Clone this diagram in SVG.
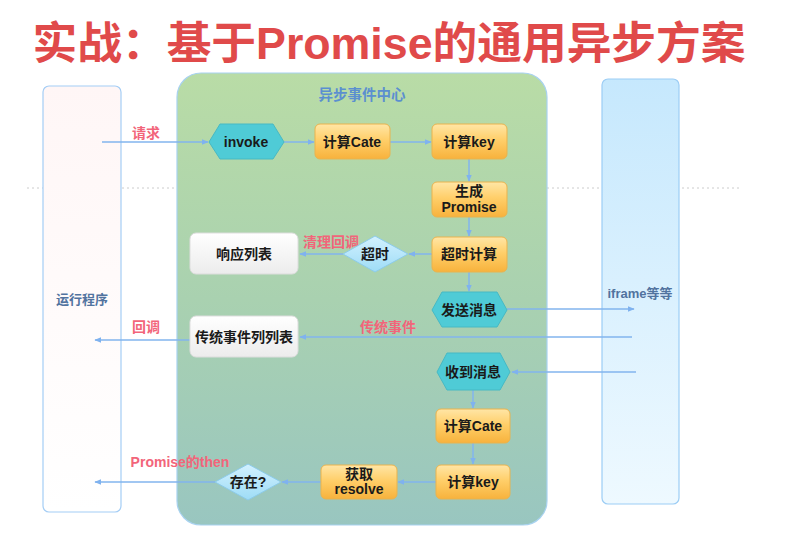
<svg xmlns="http://www.w3.org/2000/svg" width="791" height="536" viewBox="0 0 791 536">
<defs>
<linearGradient id="gGreen" x1="0" y1="0" x2="0" y2="1"><stop offset="0" stop-color="#b9dca6"/><stop offset="0.5" stop-color="#a9d1b0"/><stop offset="1" stop-color="#99c6c0"/></linearGradient>
<linearGradient id="gLeft" x1="0" y1="0" x2="0" y2="1"><stop offset="0" stop-color="#fff6f6"/><stop offset="1" stop-color="#ffffff"/></linearGradient>
<linearGradient id="gRight" x1="0" y1="0" x2="0" y2="1"><stop offset="0" stop-color="#c6e8fd"/><stop offset="1" stop-color="#eef9ff"/></linearGradient>
<linearGradient id="gOrange" x1="0" y1="0" x2="0" y2="1"><stop offset="0" stop-color="#ffe6a6"/><stop offset="0.45" stop-color="#ffcf6a"/><stop offset="1" stop-color="#f7b23c"/></linearGradient>
<linearGradient id="gWhite" x1="0" y1="0" x2="0" y2="1"><stop offset="0" stop-color="#ffffff"/><stop offset="1" stop-color="#ececec"/></linearGradient>
<linearGradient id="gDiam" x1="0" y1="0" x2="0" y2="1"><stop offset="0" stop-color="#d2f1ff"/><stop offset="1" stop-color="#9edcf6"/></linearGradient>
<marker id="arr" viewBox="0 0 10 10" refX="9" refY="5" markerWidth="7" markerHeight="7" orient="auto-start-reverse" markerUnits="userSpaceOnUse"><path d="M0,1 L10,5 L0,9 z" fill="#7fb2ef"/></marker>
</defs>
<style>
.t{font-family:"Liberation Sans","Noto Sans CJK SC",sans-serif;font-weight:bold;text-anchor:middle;}
.node{font-size:14px;fill:#1a1a1a;}
.red{font-size:14px;fill:#f2657a;}
.lane{font-size:13px;fill:#51739f;}
.orange{fill:url(#gOrange);stroke:#e9b34e;stroke-width:1;}
.hex{fill:#4fcbd6;stroke:#47b9c4;stroke-width:1;}
.white{fill:url(#gWhite);stroke:#dddddd;stroke-width:1;}
.diam{fill:url(#gDiam);stroke:#8ccbea;stroke-width:1;}
.con{stroke:#82b4ee;stroke-width:1.5;fill:none;marker-end:url(#arr);}
</style>
<rect width="791" height="536" fill="#ffffff"/>
<text class="t" x="389" y="59" font-size="44" fill="#e04a4a" textLength="713" lengthAdjust="spacingAndGlyphs">实战：基于Promise的通用异步方案</text>
<line x1="27" y1="188" x2="740" y2="188" stroke="#cccccc" stroke-width="1" stroke-dasharray="2,3"/>

<g id="lane-left">
<rect x="43" y="86" width="78" height="426" rx="6" fill="url(#gLeft)" stroke="#a4cdf5" stroke-width="1.2"/>
<text class="t lane" x="82" y="304">运行程序</text>
</g>
<g id="center">
<rect x="177" y="73" width="370" height="452" rx="24" fill="url(#gGreen)" stroke="#a8d2f0" stroke-width="1.2"/>
<text class="t" x="362" y="100" font-size="14.5" fill="#5b8fd0">异步事件中心</text>
</g>
<g id="lane-right">
<rect x="602" y="79" width="77" height="425" rx="6" fill="url(#gRight)" stroke="#9ccdf5" stroke-width="1.2"/>
<text class="t lane" x="640" y="298">iframe等等</text>
</g>

<g id="connectors">
<line class="con" x1="102" y1="142" x2="208" y2="142"/>
<line class="con" x1="284" y1="142" x2="314" y2="142"/>
<line class="con" x1="390" y1="142" x2="431" y2="142"/>
<line class="con" x1="469" y1="159" x2="469" y2="181"/>
<line class="con" x1="469" y1="217" x2="469" y2="236"/>
<line class="con" x1="432" y1="254" x2="409" y2="254"/>
<line class="con" x1="343" y1="254" x2="300" y2="254"/>
<line class="con" x1="469" y1="272" x2="469" y2="291"/>
<line class="con" x1="507" y1="309" x2="634" y2="309"/>
<line class="con" x1="632" y1="337" x2="300" y2="337"/>
<line class="con" x1="190" y1="340" x2="95" y2="340"/>
<line class="con" x1="636" y1="372" x2="512" y2="372"/>
<line class="con" x1="473" y1="390" x2="473" y2="408"/>
<line class="con" x1="473" y1="443" x2="473" y2="464"/>
<line class="con" x1="436" y1="482" x2="398" y2="482"/>
<line class="con" x1="321" y1="482" x2="282" y2="482"/>
<line class="con" x1="215" y1="482" x2="95" y2="482"/>
<text class="t red" x="146" y="138">请求</text>
<text class="t red" x="331" y="247">清理回调</text>
<text class="t red" x="388" y="332">传统事件</text>
<text class="t red" x="146" y="332">回调</text>
<text class="t red" x="180" y="467">Promise的then</text>
</g>

<g id="invoke">
<polygon class="hex" points="209,142 220,124 273,124 284,142 273,159 220,159"/>
<text class="t node" x="246" y="147" font-size="13">invoke</text>
</g>
<g id="cate1">
<rect class="orange" x="315" y="124" width="75" height="35" rx="5"/>
<text class="t node" x="352" y="147">计算Cate</text>
</g>
<g id="key1">
<rect class="orange" x="432" y="124" width="75" height="35" rx="5"/>
<text class="t node" x="469" y="147">计算key</text>
</g>
<g id="promise">
<rect class="orange" x="432" y="182" width="75" height="35" rx="5"/>
<text class="t node" x="469" y="196" font-size="13">生成</text>
<text class="t node" x="469" y="212" font-size="13">Promise</text>
</g>
<g id="timeout-calc">
<rect class="orange" x="432" y="237" width="75" height="35" rx="5"/>
<text class="t node" x="469" y="259">超时计算</text>
</g>
<g id="timeout">
<polygon class="diam" points="343,254 375,236 408,254 375,272"/>
<text class="t node" x="375" y="259">超时</text>
</g>
<g id="resp-list">
<rect class="white" x="190" y="233" width="108" height="41" rx="6"/>
<text class="t node" x="244" y="259">响应列表</text>
</g>
<g id="send">
<polygon class="hex" points="432,310 442,292 497,292 507,310 497,327 442,327"/>
<text class="t node" x="469" y="315">发送消息</text>
</g>
<g id="event-list">
<rect class="white" x="190" y="316" width="108" height="41" rx="6"/>
<text class="t node" x="244" y="342">传统事件列列表</text>
</g>
<g id="recv">
<polygon class="hex" points="437,372 447,353 500,353 510,372 500,390 447,390"/>
<text class="t node" x="473" y="377">收到消息</text>
</g>
<g id="cate2">
<rect class="orange" x="436" y="409" width="74" height="34" rx="5"/>
<text class="t node" x="473" y="431">计算Cate</text>
</g>
<g id="key2">
<rect class="orange" x="436" y="465" width="74" height="34" rx="5"/>
<text class="t node" x="473" y="487">计算key</text>
</g>
<g id="resolve">
<rect class="orange" x="321" y="465" width="76" height="34" rx="5"/>
<text class="t node" x="359" y="479" font-size="13">获取</text>
<text class="t node" x="359" y="494" font-size="13">resolve</text>
</g>
<g id="exists">
<polygon class="diam" points="215,482 248,464 281,482 248,500"/>
<text class="t node" x="248" y="487">存在?</text>
</g>
</svg>
